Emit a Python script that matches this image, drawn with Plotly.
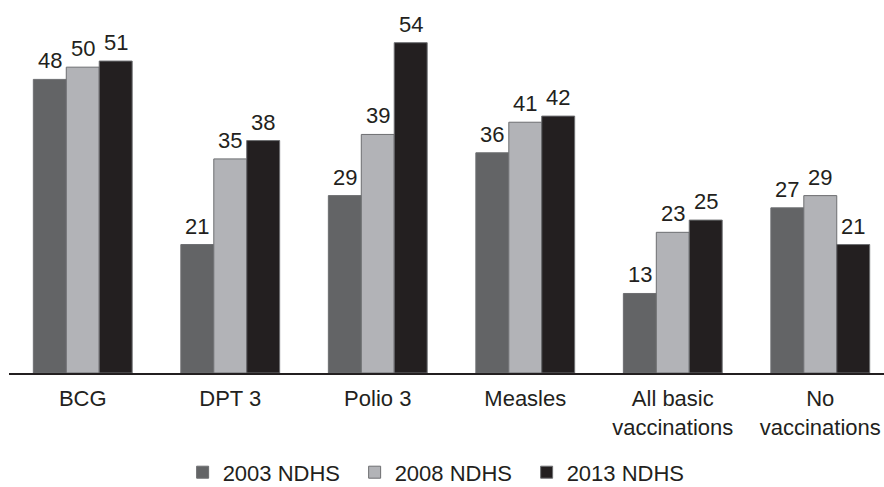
import plotly.graph_objects as go

categories = ["BCG", "DPT 3", "Polio 3", "Measles", "All basic<br>vaccinations", "No<br>vaccinations"]
survey_names = ["2003 NDHS", "2008 NDHS", "2013 NDHS"]
values_2003 = [48, 21, 29, 36, 13, 27]
values_2008 = [50, 35, 39, 41, 23, 29]
values_2013 = [51, 38, 54, 42, 25, 21]

series = [values_2003, values_2008, values_2013]
colors = ["#636466", "#b2b3b7", "#231f20"]
positions = list(range(len(categories)))

FONT = "Liberation Sans, Arial, sans-serif"
TEXT = "#231f20"
BARGAP = 0.33
bar_w = (1 - BARGAP) / len(series)

fig = go.Figure()
for name, vals, col in zip(survey_names, series, colors):
    fig.add_trace(go.Bar(
        x=positions,
        y=vals,
        name=name,
        marker=dict(color=col, line=dict(color="#6d6e71", width=1)),
        cliponaxis=False,
    ))

# value labels above each bar
for i, vals in enumerate(series):
    off = (i - (len(series) - 1) / 2) * bar_w
    for p, v in zip(positions, vals):
        fig.add_annotation(
            x=p + off, y=v, xref="x", yref="y",
            text=str(v), showarrow=False,
            yanchor="bottom", yshift=4,
            font=dict(family=FONT, size=22, color=TEXT),
        )

fig.update_layout(
    width=884,
    height=487,
    barmode="group",
    bargap=BARGAP,
    bargroupgap=0,
    plot_bgcolor="white",
    paper_bgcolor="white",
    margin=dict(l=9, r=0, t=6, b=114),
    font=dict(family=FONT, size=22, color=TEXT),
    xaxis=dict(
        tickmode="array",
        tickvals=positions,
        ticktext=categories,
        range=[-0.5, 5.432],
        showline=True,
        linecolor="#231f20",
        linewidth=2,
        ticks="",
        ticklabelstandoff=5,
        showgrid=False,
        zeroline=False,
        tickfont=dict(family=FONT, size=22, color=TEXT),
    ),
    yaxis=dict(
        range=[0, 60],
        visible=False,
        showgrid=False,
        zeroline=False,
    ),
    showlegend=True,
    legend=dict(
        orientation="h",
        xref="container",
        yref="container",
        x=0.2066,
        y=0.03,
        xanchor="left",
        yanchor="middle",
        font=dict(family=FONT, size=22, color=TEXT),
        entrywidth=127,
        traceorder="normal",
    ),
)

fig.write_html("out.html")
